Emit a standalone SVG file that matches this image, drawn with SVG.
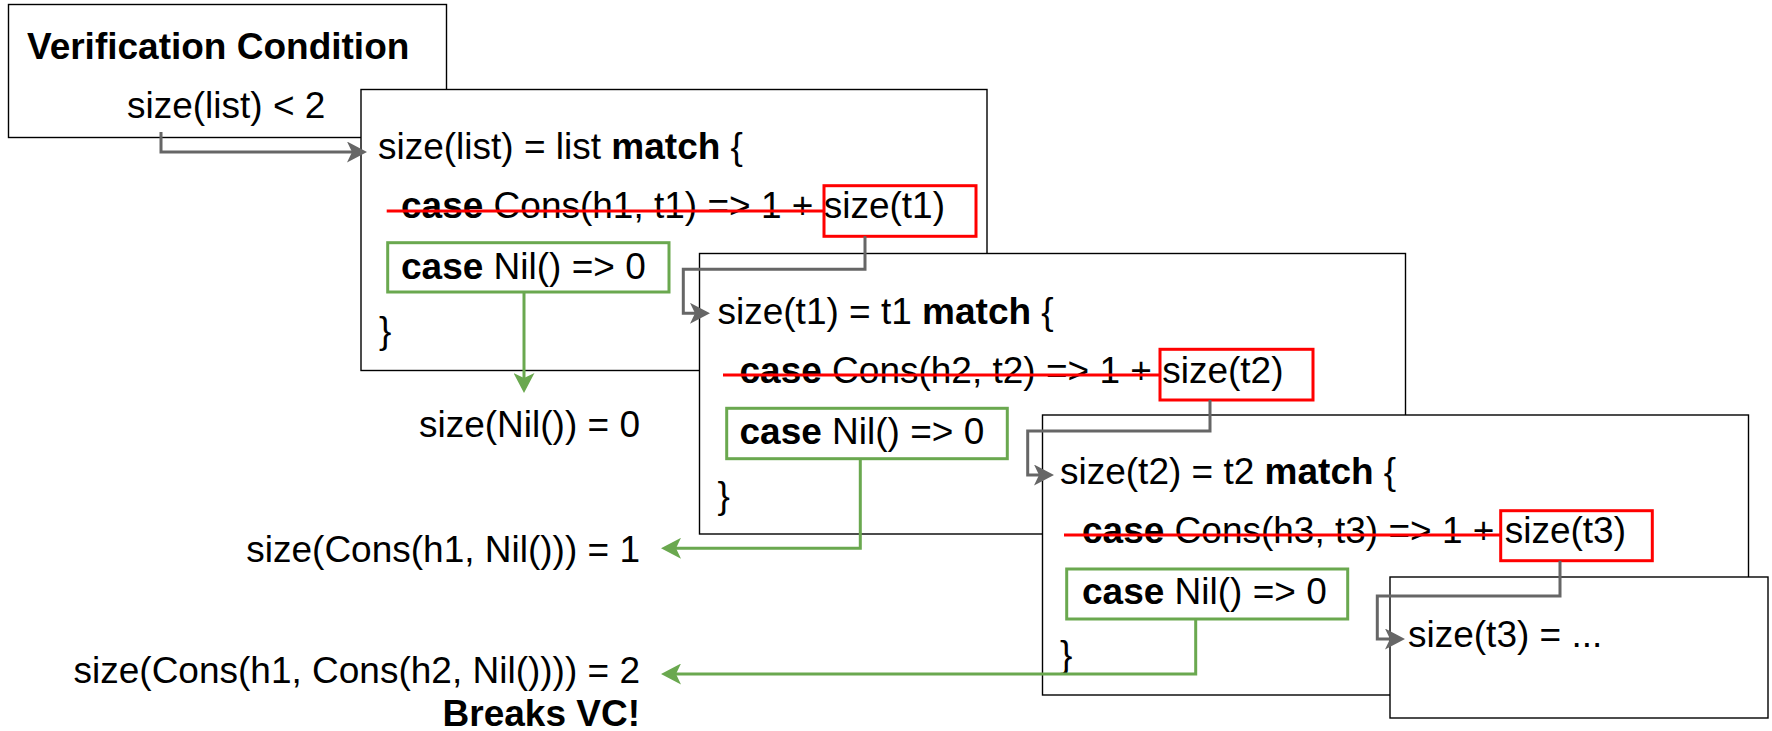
<svg xmlns="http://www.w3.org/2000/svg" width="1772" height="731" viewBox="0 0 1772 731">
<style>
text{font-family:"Liberation Sans",Arial,sans-serif;font-size:37px;fill:#000}
.b{font-weight:bold}
.box{fill:#fff;stroke:#000;stroke-width:1.4}
.red{fill:none;stroke:#ff0000;stroke-width:3}
.grn{fill:none;stroke:#6aa84f;stroke-width:3}
.strike{stroke:#ff0000;stroke-width:3}
.cg{fill:none;stroke:#666;stroke-width:3;marker-end:url(#ag)}
.cn{fill:none;stroke:#6aa84f;stroke-width:3;marker-end:url(#an)}
</style>
<defs>
<marker id="ag" viewBox="0 0 20 21" refX="16" refY="10.5" markerWidth="20" markerHeight="21" markerUnits="userSpaceOnUse" orient="auto"><path d="M0,0 L20,10.5 L0,21 L5,10.5 Z" fill="#666"/></marker>
<marker id="an" viewBox="0 0 20 21" refX="16" refY="10.5" markerWidth="20" markerHeight="21" markerUnits="userSpaceOnUse" orient="auto"><path d="M0,0 L20,10.5 L0,21 L5,10.5 Z" fill="#6aa84f"/></marker>
</defs>
<rect width="1772" height="731" fill="#fff"/>

<g id="vc">
<rect class="box" x="8.5" y="4.5" width="438" height="133"/>
<text class="b" x="27" y="58.5">Verification Condition</text>
<text x="127" y="118">size(list) &lt; 2</text>
</g>

<g id="box1">
<rect class="box" x="361" y="89.5" width="626" height="281"/>
<text x="378" y="158.5">size(list) = list <tspan class="b">match</tspan> {</text>
<text x="401" y="218"><tspan class="b">case</tspan> Cons(h1, t1) =&gt; 1 + size(t1)</text>
<line class="strike" x1="386.7" y1="211" x2="824" y2="211"/>
<rect class="red" x="824" y="185.7" width="152" height="50.6"/>
<rect class="grn" x="387.7" y="242.7" width="281.3" height="49.3"/>
<text x="401" y="279"><tspan class="b">case</tspan> Nil() =&gt; 0</text>
<text x="379" y="343">}</text>
</g>

<g id="box2">
<rect class="box" x="699.5" y="253.5" width="706" height="280.5"/>
<text x="717.5" y="323.5">size(t1) = t1 <tspan class="b">match</tspan> {</text>
<text x="739.5" y="382.5"><tspan class="b">case</tspan> Cons(h2, t2) =&gt; 1 + size(t2)</text>
<line class="strike" x1="723" y1="375" x2="1160" y2="375"/>
<rect class="red" x="1160" y="349.3" width="153" height="50.7"/>
<rect class="grn" x="726.7" y="408.3" width="280.6" height="50.4"/>
<text x="739.5" y="443.5"><tspan class="b">case</tspan> Nil() =&gt; 0</text>
<text x="717.5" y="508">}</text>
</g>

<g id="box3">
<rect class="box" x="1042.5" y="415" width="706" height="280"/>
<text x="1060" y="483.5">size(t2) = t2 <tspan class="b">match</tspan> {</text>
<text x="1082" y="543"><tspan class="b">case</tspan> Cons(h3, t3) =&gt; 1 + size(t3)</text>
<line class="strike" x1="1064" y1="535" x2="1500.7" y2="535"/>
<rect class="red" x="1500.7" y="510.7" width="151.6" height="50"/>
<rect class="grn" x="1066.7" y="569" width="281" height="50"/>
<text x="1082" y="603.5"><tspan class="b">case</tspan> Nil() =&gt; 0</text>
<text x="1060" y="667">}</text>
</g>

<g id="box4">
<rect class="box" x="1390" y="577" width="378" height="141"/>
<text x="1408" y="647">size(t3) = ...</text>
</g>

<g id="results">
<text x="640" y="437" text-anchor="end">size(Nil()) = 0</text>
<text x="640" y="562" text-anchor="end">size(Cons(h1, Nil())) = 1</text>
<text x="640" y="683" text-anchor="end">size(Cons(h1, Cons(h2, Nil()))) = 2</text>
<text class="b" x="640" y="726" text-anchor="end">Breaks VC!</text>
</g>

<g id="connectors">
<path class="cg" d="M161,132 V152 H363"/>
<path class="cg" d="M865,236.3 V269.3 H683.3 V313.3 H706"/>
<path class="cg" d="M1210,400 V431 H1027.7 V475 H1050"/>
<path class="cg" d="M1560,560.7 V596 H1377.3 V639 H1401"/>
<path class="cn" d="M524,292 V389"/>
<path class="cn" d="M860.3,458.7 V548.3 H665"/>
<path class="cn" d="M1195.7,619 V674 H665"/>
</g>
</svg>
